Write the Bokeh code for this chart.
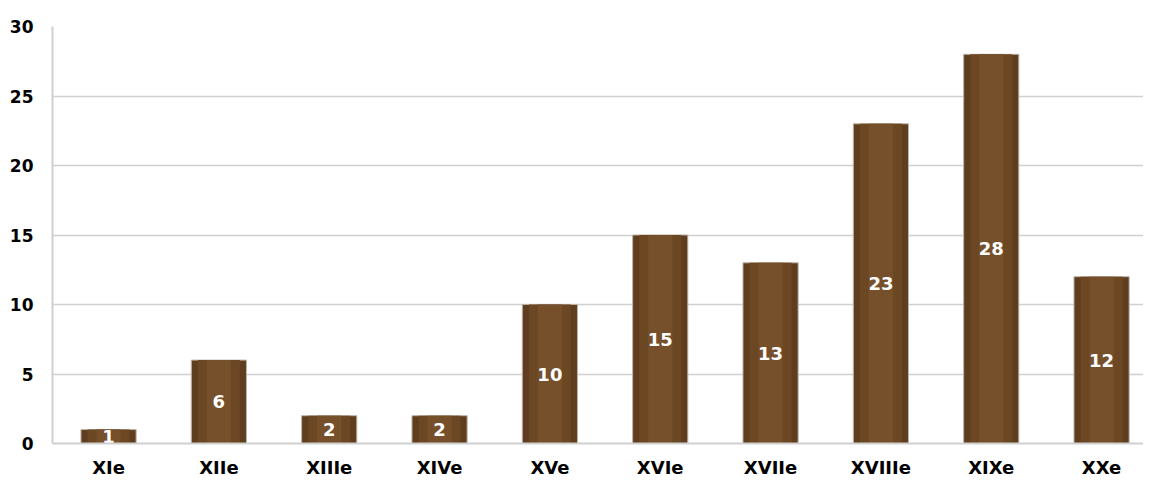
from bokeh.plotting import figure
from bokeh.models import ColumnDataSource, FixedTicker, Range1d
from bokeh.core.properties import value
from bokeh.embed import file_html
from bokeh.resources import INLINE

centuries = ["XIe", "XIIe", "XIIIe", "XIVe", "XVe", "XVIe", "XVIIe", "XVIIIe", "XIXe", "XXe"]
counts = [1, 6, 2, 2, 10, 15, 13, 23, 28, 12]
y_ticks = [0, 5, 10, 15, 20, 25, 30]

pos = list(range(len(centuries)))
src = ColumnDataSource(dict(
    x=pos,
    top=counts,
    mid=[c / 2 for c in counts],
    lab=[str(c) for c in counts],
))

p = figure(x_range=Range1d(-0.508, 9.38), y_range=Range1d(0, 30), width=1143, height=485,
           output_backend="svg", toolbar_location=None,
           min_border_left=52, min_border_right=0, min_border_top=26, min_border_bottom=42)
p.outline_line_color = None
p.background_fill_color = "white"
p.border_fill_color = "white"

# bars with a simple cylinder-like shading
p.vbar(x="x", top="top", width=0.5, source=src, fill_color="#5f3e1f",
       line_color="#bfb2a5", line_width=1)
p.vbar(x="x", top="top", width=0.38, source=src, fill_color="#6b4724", line_color=None)
p.vbar(x="x", top="top", width=0.22, source=src, fill_color="#764f2b", line_color=None)

p.text(x="x", y="mid", text="lab", source=src, text_color="white",
       text_font=value("DejaVu Sans"), text_font_style="bold", text_font_size="18px",
       text_align="center", text_baseline="middle")

p.xaxis.ticker = FixedTicker(ticks=pos)
p.xaxis.major_label_overrides = {i: c for i, c in zip(pos, centuries)}
p.yaxis.ticker = FixedTicker(ticks=y_ticks)
p.ygrid.ticker = FixedTicker(ticks=y_ticks)
p.ygrid.grid_line_color = "#d0d0d0"
p.ygrid.grid_line_width = 1.5
p.xgrid.grid_line_color = None

for ax in (p.xaxis[0], p.yaxis[0]):
    ax.major_tick_line_color = None
    ax.minor_tick_line_color = None
    ax.axis_line_color = "#d0d0d0"
    ax.axis_line_width = 2
    ax.major_label_text_font = "DejaVu Sans"
    ax.major_label_text_font_style = "bold"
    ax.major_label_text_color = "black"

p.xaxis.major_label_text_font_size = "18px"
p.xaxis.major_label_standoff = 7
p.yaxis.major_label_text_font_size = "17px"
p.yaxis.major_label_standoff = 13

open("out.html", "w").write(file_html(p, INLINE))
